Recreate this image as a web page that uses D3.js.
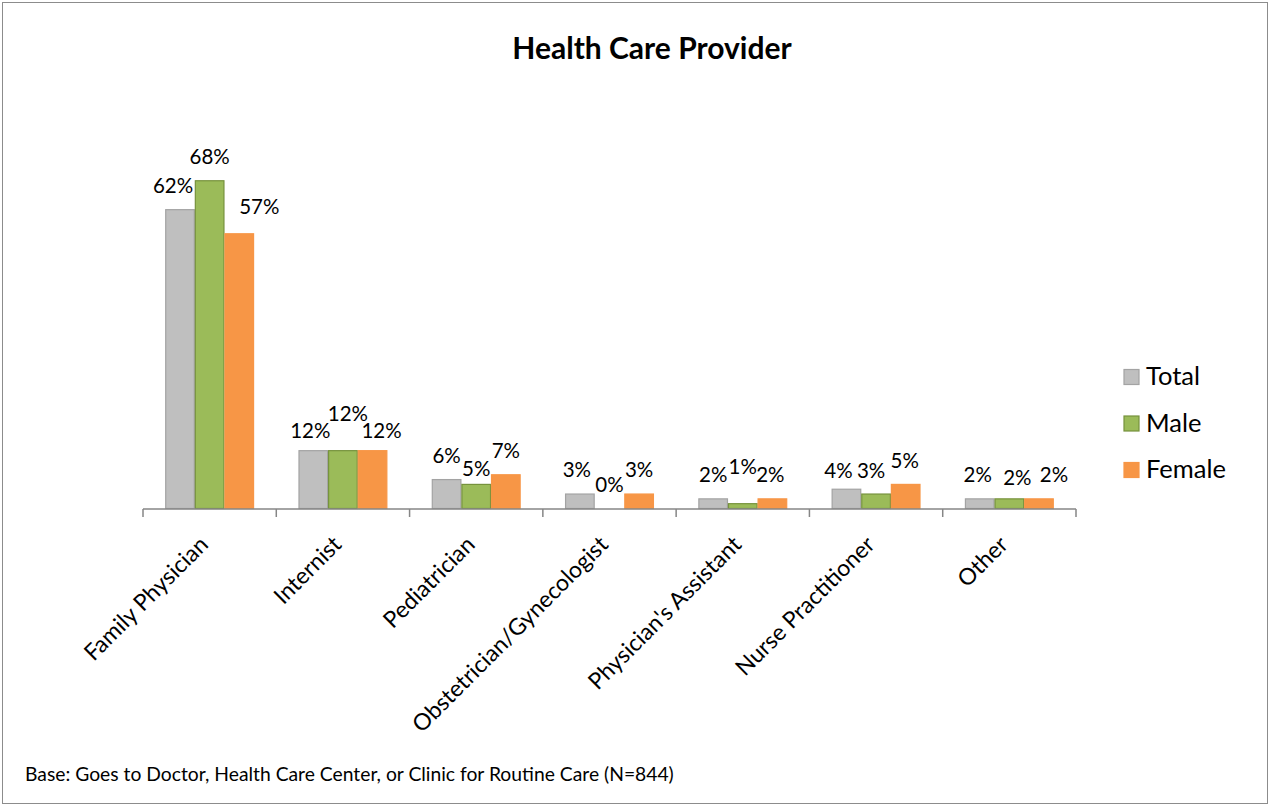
<!DOCTYPE html>
<html>
<head>
<meta charset="utf-8">
<script src="https://cdn.jsdelivr.net/npm/d3@7"></script>
<style>
  html, body { margin: 0; padding: 0; background: #fff; }
  svg { display: block; font-family: Lato, "Open Sans", sans-serif; }
</style>
</head>
<body>
<svg id="chart" width="1270" height="806"></svg>
<script>
// Provider categories and shares (%) by respondent group
const categories = ["Family Physician", "Internist", "Pediatrician", "Obstetrician/Gynecologist",
                    "Physician's Assistant", "Nurse Practitioner", "Other"];
const seriesNames = ["Total", "Male", "Female"];
const totalValues  = [62, 12, 6, 3, 2, 4, 2];
const maleValues   = [68, 12, 5, 0, 1, 3, 2];
const femaleValues = [57, 12, 7, 3, 2, 5, 2];

const titleText = "Health Care Provider";
const footnoteText = "Base: Goes to Doctor, Health Care Center, or Clinic for Routine Care (N=844)";

// Appearance per series
const fills   = { Total: "#bfbfbf", Male: "#9bbb59", Female: "#f79646" };
const strokes = { Total: "#a3a3a3", Male: "#76923c", Female: "#f79646" };

// Small offsets that keep neighbouring value labels from colliding [dx, dy]
const labelNudge = {
  Total:  [[-7, 0], [-3, 4], [0, 0], [-3, 0], [0, 0], [-8, 6], [-2, 0]],
  Male:   [[0, 0], [5, -13], [0, 9], [0, 0], [0, -13], [-5, 1], [8, 3]],
  Female: [[20, -3], [9, 4], [0, 0], [0, 0], [-2, 0], [-1, 1], [15, 0]]
};

const valuesBySeries = { Total: totalValues, Male: maleValues, Female: femaleValues };

const svg = d3.select("#chart");
const W = 1270, H = 806;

// Chart frame
svg.append("rect")
  .attr("x", 2.5).attr("y", 2.5)
  .attr("width", W - 5).attr("height", H - 5)
  .attr("fill", "#fff").attr("stroke", "#8c8c8c").attr("stroke-width", 1);

// Title
svg.append("text")
  .attr("x", 652).attr("y", 59)
  .attr("text-anchor", "middle")
  .attr("font-weight", "bold")
  .attr("font-size", 30)
  .attr("fill", "#000")
  .text(titleText);

// Scales
const plot = { left: 143, right: 1076, baseline: 508.5 };
const x0 = d3.scaleBand()
  .domain(categories)
  .range([plot.left, plot.right])
  .paddingInner(1 / 3)
  .paddingOuter(1 / 6);
const x1 = d3.scaleBand()
  .domain(seriesNames)
  .range([0, x0.bandwidth()]);
const y = d3.scaleLinear()
  .domain([0, 70])
  .range([plot.baseline, plot.baseline - 70 * 4.82]);

// Bars
const rows = categories.map((c, i) => ({ category: c, index: i }));
const groups = svg.append("g").selectAll("g")
  .data(rows).join("g")
  .attr("transform", d => `translate(${x0(d.category)},0)`);

groups.selectAll("rect")
  .data(d => seriesNames.map(s => ({ series: s, value: valuesBySeries[s][d.index], index: d.index })))
  .join("rect")
  .filter(d => d.value > 0)
  .attr("x", d => x1(d.series) + 0.5)
  .attr("y", d => y(d.value))
  .attr("width", x1.bandwidth() - 1)
  .attr("height", d => y(0) - y(d.value))
  .attr("fill", d => fills[d.series])
  .attr("stroke", d => strokes[d.series])
  .attr("stroke-width", 1.2);

// Value labels
groups.selectAll("text.value")
  .data(d => seriesNames.map(s => ({ series: s, value: valuesBySeries[s][d.index], index: d.index })))
  .join("text")
  .attr("class", "value")
  .attr("x", d => x1(d.series) + x1.bandwidth() / 2 + labelNudge[d.series][d.index][0])
  .attr("y", d => y(d.value) - 17 + labelNudge[d.series][d.index][1])
  .attr("text-anchor", "middle")
  .attr("font-size", 20.5)
  .attr("fill", "#000")
  .text(d => d.value + "%");

// Category axis: baseline with tick marks on category boundaries
const axis = svg.append("g");
axis.append("line")
  .attr("x1", plot.left).attr("x2", plot.right)
  .attr("y1", 509).attr("y2", 509)
  .attr("stroke", "#868686").attr("stroke-width", 1.5);
const boundaries = d3.range(categories.length + 1).map(i => plot.left + i * x0.step());
axis.selectAll("line.tick")
  .data(boundaries).join("line")
  .attr("class", "tick")
  .attr("x1", d => d).attr("x2", d => d)
  .attr("y1", 509).attr("y2", 517)
  .attr("stroke", "#868686").attr("stroke-width", 1.5);

// Rotated category labels
axis.selectAll("text.cat")
  .data(categories).join("text")
  .attr("class", "cat")
  .attr("text-anchor", "end")
  .attr("font-size", 23)
  .attr("fill", "#000")
  .attr("transform", d => `translate(${x0(d) + x0.bandwidth() / 2},${546}) rotate(-45)`)
  .text(d => d);

// Legend
const legend = svg.append("g");
const legendItems = legend.selectAll("g")
  .data(seriesNames).join("g")
  .attr("transform", (d, i) => `translate(1124,${369.5 + i * 46.5})`);
legendItems.append("rect")
  .attr("width", 15).attr("height", 15)
  .attr("fill", d => fills[d])
  .attr("stroke", d => strokes[d])
  .attr("stroke-width", 1.2);
legendItems.append("text")
  .attr("x", 22).attr("y", 15.5)
  .attr("font-size", 25.5)
  .attr("fill", "#000")
  .text(d => d);

// Footnote
svg.append("text")
  .attr("x", 25).attr("y", 781)
  .attr("font-size", 19.3)
  .attr("fill", "#000")
  .text(footnoteText);
</script>
</body>
</html>
